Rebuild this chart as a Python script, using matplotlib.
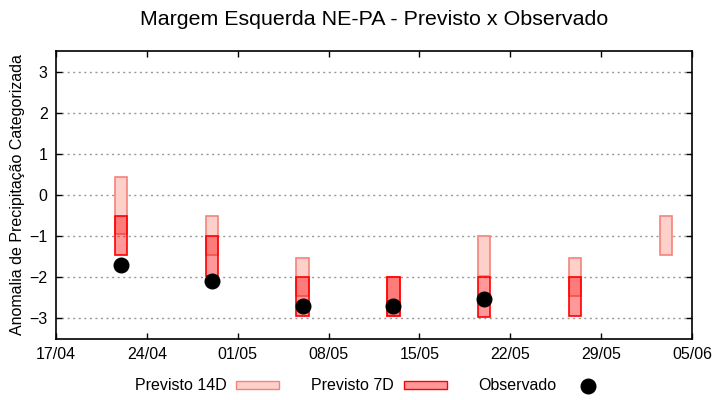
import numpy as np
import matplotlib.pyplot as plt
import matplotlib.dates as mdates
from matplotlib.patches import Patch
from matplotlib.lines import Line2D
import datetime as dt

plt.rcParams['font.family'] = ['Liberation Sans', 'DejaVu Sans']

###########################################################
# data

datas = ['2023-04-22', '2023-04-29', '2023-05-06', '2023-05-13',
         '2023-05-20', '2023-05-27', '2023-06-03']

# previsto 14 dias (limite inferior / superior)
p14_low = [-0.95, -1.45, -2.45, -2.95, -1.97, -2.45, -1.45]
p14_up = [0.44, -0.52, -1.52, -2.0, -1.0, -1.52, -0.52]

# previsto 7 dias
p7_low = [-1.45, -1.97, -2.95, -2.95, -2.97, -2.95, np.nan]
p7_up = [-0.52, -1.0, -2.0, -2.0, -2.0, -2.0, np.nan]

# observado
obs = [-1.7, -2.1, -2.7, -2.7, -2.52, np.nan, np.nan]

xticks = ['2023-04-17', '2023-04-24', '2023-05-01', '2023-05-08',
          '2023-05-15', '2023-05-22', '2023-05-29', '2023-06-05']

###########################################################
# plot

datas = [dt.datetime.strptime(d, '%Y-%m-%d') for d in datas]
xticks = [dt.datetime.strptime(d, '%Y-%m-%d') for d in xticks]
xnum = mdates.date2num(datas)
largura = 0.95

fig = plt.figure(figsize=(7.2, 4.0), dpi=100)
ax = fig.add_axes([56/720, 1-339/400, (692-56)/720, (339-51)/400])

p14_low = np.array(p14_low)
p14_up = np.array(p14_up)
p7_low = np.array(p7_low)
p7_up = np.array(p7_up)

ax.bar(xnum, p14_up-p14_low, bottom=p14_low, width=largura,
       color='#fdd0ca', edgecolor='#f5837a', linewidth=1.2, zorder=3)
ax.bar(xnum, p7_up-p7_low, bottom=p7_low, width=largura,
       color=(1, 0, 0, 0.4), edgecolor='red', linewidth=1.2, zorder=4)
ax.plot(xnum, obs, 'o', color='black', markersize=10.5, zorder=5)

ax.set_xlim(mdates.date2num(xticks[0]), mdates.date2num(xticks[-1]))
ax.set_ylim(-3.5, 3.5)
ax.set_xticks(mdates.date2num(xticks))
ax.set_xticklabels([d.strftime('%d/%m') for d in xticks])
ax.set_yticks(np.arange(-3, 4, 1))
ax.tick_params(direction='in', length=4, width=1, labelsize=11.5,
               top=True, right=True, pad=6)
ax.yaxis.grid(True, linestyle=(0, (1.5, 2.5)), color='#999999', linewidth=1)
ax.set_axisbelow(True)
for s in ax.spines.values():
    s.set_linewidth(1.2)

ax.set_ylabel('Anomalia de Precipitação Categorizada', fontsize=11.5, labelpad=3)
fig.suptitle('Margem Esquerda NE-PA - Previsto x Observado', fontsize=15.4,
             x=0.519, y=0.975)

legendhandle = [Patch(facecolor='#fdd0ca', edgecolor='#f5837a'),
                Patch(facecolor='#ff9999', edgecolor='red'),
                Line2D([], [], marker='o', ls='', color='black', markersize=10.5)]
fig.legend(legendhandle, ['Previsto 14D', 'Previsto 7D', 'Observado'],
           loc='center', bbox_to_anchor=(0.517, 0.035), ncol=3, frameon=False,
           markerfirst=False, fontsize=11.5, handlelength=2.7, handleheight=0.45,
           columnspacing=2.0, handletextpad=0.6)

plt.savefig('out.png', dpi=100)
